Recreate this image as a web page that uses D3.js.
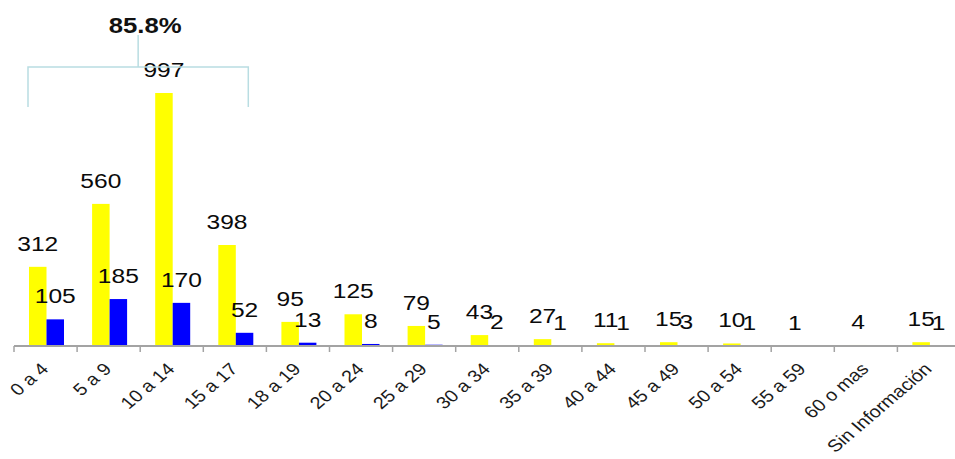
<!DOCTYPE html>
<html>
<head>
<meta charset="utf-8">
<script src="https://cdn.jsdelivr.net/npm/d3@7/dist/d3.min.js"></script>
<style>
  body { margin: 0; background: #fff; }
  svg { display: block; font-family: "Liberation Sans", Arial, sans-serif; }
</style>
</head>
<body>
<svg id="chart" width="955" height="459"></svg>
<script>
var categories = ["0 a 4", "5 a 9", "10 a 14", "15 a 17", "18 a 19", "20 a 24", "25 a 29",
    "30 a 34", "35 a 39", "40 a 44", "45 a 49", "50 a 54", "55 a 59", "60 o mas", "Sin Información"];
var yellowValues = [312, 560, 997, 398, 95, 125, 79, 43, 27, 11, 15, 10, 1, 4, 15];
var blueValues = [105, 185, 170, 52, 13, 8, 5, 2, 1, 1, 3, 1, null, null, 1];
var seriesNames = ["yellow", "blue"];
var seriesColors = ["#ffff00", "#0000ff"];
var bracketFrom = "0 a 4", bracketTo = "15 a 17";
var bracketLabel = "85.8%";

// the picture is stretched sideways, so text gets the same stretch
var SX = 1.17;

function BarChart(config) {
    this.svg = config.elem;
    this.rect = { x: 14, y: 93, w: 15 * 63.1, h: 253 };
    this.x = d3.scaleBand().domain(categories)
        .range([this.rect.x, this.rect.x + this.rect.w]);
    this.xSub = d3.scaleBand().domain(seriesNames).range([15, 50]);
    this.y = d3.scaleLinear().domain([0, d3.max(yellowValues)])
        .range([this.rect.y + this.rect.h, this.rect.y]);
}

BarChart.prototype._stretch = function (x, y, rot) {
    return "translate(" + x + "," + y + ") scale(" + SX + ",1)" + (rot ? " rotate(" + rot + ")" : "");
};

BarChart.prototype.plot = function () {
    var self = this;
    var g = d3.select(this.svg);
    var base = this.y(0);
    var rows = categories.map(function (c, i) {
        return { cat: c, values: [yellowValues[i], blueValues[i]] };
    });

    var group = g.selectAll(".cat")
        .data(rows)
      .enter().append("g")
        .attr("class", "cat")
        .attr("transform", function (d) { return "translate(" + self.x(d.cat) + ",0)"; });

    var bars = group.selectAll(".bar")
        .data(function (d) {
            return d.values.map(function (v, k) { return { s: seriesNames[k], v: v, k: k }; })
                .filter(function (b) { return b.v != null; });
        })
      .enter();

    bars.append("rect")
        .attr("x", function (d) { return self.xSub(d.s); })
        .attr("width", this.xSub.bandwidth())
        .attr("y", function (d) { return self.y(d.v); })
        .attr("height", function (d) { return base - self.y(d.v); })
        .attr("fill", function (d) { return seriesColors[d.k]; });

    bars.append("text")
        .attr("text-anchor", "middle")
        .attr("font-size", 21)
        .attr("fill", "#0a0a0a")
        .attr("transform", function (d) {
            return self._stretch(self.xSub(d.s) + self.xSub.bandwidth() / 2, self.y(d.v) - 16);
        })
        .text(function (d) { return d.v; });

    // axis line with ticks between categories
    var axis = g.append("g").attr("stroke", "#a3a3a3");
    axis.append("line")
        .attr("x1", this.rect.x).attr("x2", 955)
        .attr("y1", base).attr("y2", base)
        .attr("stroke-width", 2);
    axis.selectAll(".tick")
        .data(categories)
      .enter().append("line")
        .attr("x1", function (d) { return self.x(d); })
        .attr("x2", function (d) { return self.x(d); })
        .attr("y1", base).attr("y2", base + 6)
        .attr("stroke-width", 1.5);

    g.append("g").selectAll("text")
        .data(categories)
      .enter().append("text")
        .attr("text-anchor", "end")
        .attr("font-size", 17)
        .attr("fill", "#1a1a1a")
        .attr("transform", function (d) {
            return self._stretch(self.x(d) + self.x.bandwidth() / 2 + 4, base + 24, -45);
        })
        .text(function (d) { return d; });

    this._bracket(g);
};

BarChart.prototype._bracket = function (g) {
    var left = this.x(bracketFrom) + 14;
    var right = this.x(bracketTo) + 45;
    var mid = (left + right) / 2;
    var top = 67, bottom = 107;
    g.append("path")
        .attr("d", "M" + left + "," + bottom + "V" + top + "H" + right + "V" + bottom
            + "M" + mid + "," + top + "V35")
        .attr("fill", "none")
        .attr("stroke", "#b9dde2")
        .attr("stroke-width", 1.5);
    g.append("text")
        .attr("text-anchor", "middle")
        .attr("font-size", 22)
        .attr("font-weight", "bold")
        .attr("fill", "#111")
        .attr("transform", this._stretch(mid + 7, 33))
        .text(bracketLabel);
};

var chart = new BarChart({ elem: document.getElementById("chart") });
chart.plot();
</script>
</body>
</html>
